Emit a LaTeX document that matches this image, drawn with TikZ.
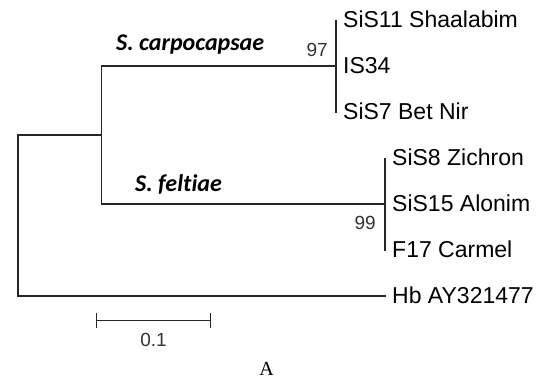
\documentclass[tikz,border=0pt]{standalone}
\usepackage{fontspec}
\setmainfont{Liberation Sans}
\newfontfamily\speciesfont[Ligatures=NoCommon]{Carlito}
\newfontfamily\panelfont{Liberation Serif}
\usepackage{tikz}
\usetikzlibrary{arrows.meta,positioning}

\begin{document}
\begin{tikzpicture}[x=1pt,y=-1pt,
    branch/.style={line width=1.4pt, black!85},
    leaf/.style={anchor=base west, inner sep=0pt, font=\fontsize{23}{27}\selectfont},
    boot/.style={anchor=east, inner sep=0pt, black!80, font=\fontsize{19}{22}\selectfont},
    clade/.style={anchor=base west, inner sep=0pt, font=\speciesfont\bfseries\itshape\fontsize{24}{28}\selectfont}]
    \useasboundingbox (0,0) rectangle (540,378);

    % internal nodes of the tree
    \coordinate (root) at (18,135);
    \coordinate (anc) at (101.7,135);
    \coordinate (carp) at (336,66);
    \coordinate (felt) at (385,204);
    \coordinate (carpTop) at (336,20);
    \coordinate (carpBot) at (336,112.7);
    \coordinate (feltTop) at (385,158);
    \coordinate (feltBot) at (385,251);
    \coordinate (hbEnd) at (386,296);

    % branches
    \draw[branch] (carp) -| (anc) |- (felt);
    \draw[branch] (anc) -- (root) |- (hbEnd);
    \draw[branch] (carpTop) -- (carpBot);
    \draw[branch] (feltTop) -- (feltBot);

    % leaves
    \foreach \name/\txt/\y in {sis11/SiS11 Shaalabim/20, is34/IS34/66, sis7/SiS7 Bet Nir/112.7}
        \node[leaf] (\name) at (343,\y+7) {\txt};
    \foreach \name/\txt/\y in {sis8/SiS8 Zichron/158, sis15/SiS15 Alonim/204, f17/F17 Carmel/250}
        \node[leaf] (\name) at (392,\y+7) {\txt};
    \node[leaf] (hb) at (392,303.5) {Hb AY321477};

    % bootstrap values and clade names
    \node[boot] (bsCarp) at (328,50) {97};
    \node[boot] (bsFelt) at (376,223) {99};
    \node[clade] (scName) at (116,50) {S. carpocapsae};
    \node[clade] (sfName) at (135,191) {S. feltiae};

    % scale bar
    \coordinate (barL) at (96,320.7);
    \coordinate (barR) at (211,320.7);
    \draw[branch, {Bar[width=15pt]}-{Bar[width=15pt]}] (barL) -- (barR);
    \node[boot, anchor=center] (scale) at (153.5,339.7) {0.1};

    \node[anchor=base, inner sep=0pt, font=\panelfont\fontsize{20}{24}\selectfont] (panel) at (266.7,375) {A};
\end{tikzpicture}
\end{document}
